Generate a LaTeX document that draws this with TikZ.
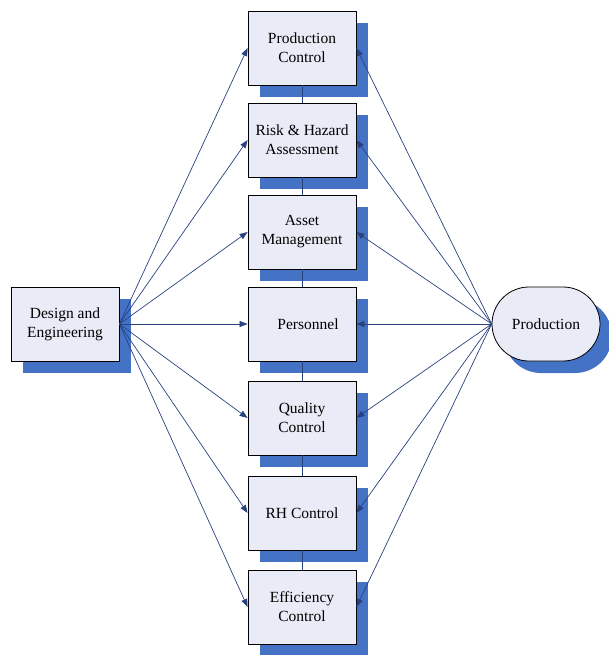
\documentclass[tikz,border=0pt]{standalone}
\usepackage{fontspec}
\setmainfont{Liberation Serif}
\usetikzlibrary{arrows.meta,shadows}
\definecolor{boxfill}{RGB}{233,236,246}
\definecolor{shadowblue}{RGB}{68,114,196}
\definecolor{linkblue}{RGB}{40,66,128}
\tikzset{
  boxshadow/.style={drop shadow={shadow xshift=12pt,shadow yshift=-12pt,fill=shadowblue,opacity=1}},
  unit/.style={draw=black,line width=0.8pt,fill=boxfill,minimum width=108pt,minimum height=74pt,
    align=center,inner sep=0pt,boxshadow,font=\fontsize{15.5}{19}\selectfont},
  link/.style={draw=linkblue,line width=0.7pt,-{Triangle[length=8pt,width=6pt]}},
  spine/.style={draw=linkblue,line width=0.7pt}
}
\begin{document}
\begin{tikzpicture}[x=1pt,y=-1pt]
\useasboundingbox (0,0) rectangle (608,655);
% central column
\node[unit] (pc) at (302,48) {Production\\Control};
\node[unit] (rh) at (302,140) {Risk \& Hazard\\Assessment};
\node[unit] (am) at (302,232) {Asset\\Management};
\node[unit] (pe) at (302,324) {\hspace*{12pt}Personnel};
\node[unit] (qc) at (302,418) {Quality\\Control};
\node[unit] (rc) at (302,513) {RH Control};
\node[unit] (ec) at (302,607) {Efficiency\\Control};
% side nodes
\node[unit] (de) at (65,324) {Design and\\Engineering};
\node[unit,rounded corners=37pt] (pr) at (546,324) {Production};
% spine through the column
\foreach \a/\b in {pc/rh,rh/am,am/pe,pe/qc,qc/rc,rc/ec}
  \draw[spine] (\a.south) -- (\b.north);
% links
\foreach \t in {pc,rh,am,pe,qc,rc,ec}{
  \draw[link] (de.east) -- (\t.west);
  \draw[link] (pr.west) -- (\t.east);
}
\end{tikzpicture}
\end{document}
